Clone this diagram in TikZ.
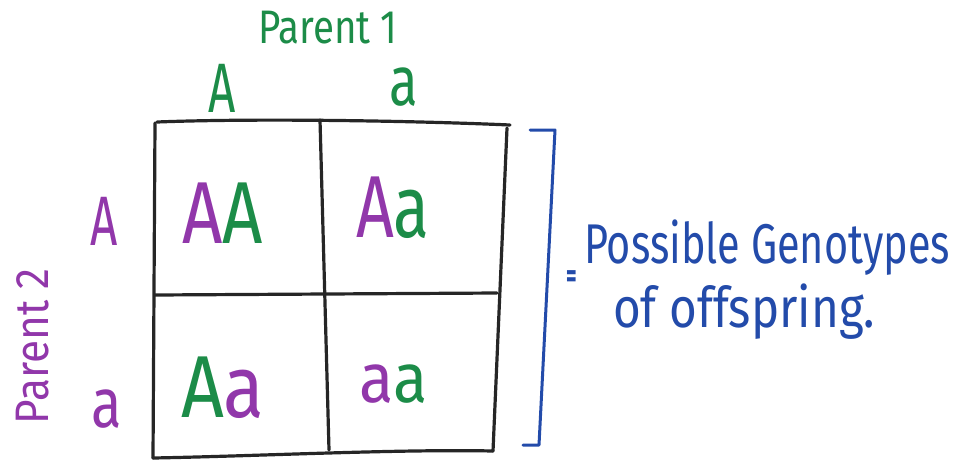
\documentclass[tikz,border=0pt]{standalone}
\usepackage{fontspec}
\setmainfont{Fira Sans}
\usepackage{graphicx}
\definecolor{pgreen}{RGB}{28,140,72}
\definecolor{ppurple}{RGB}{145,55,170}
\definecolor{pblue}{RGB}{35,75,170}
\newcommand\hs[2][0.68]{\scalebox{#1}[1]{#2}}
\newcommand\fs[1]{\fontsize{#1}{#1}\selectfont}
\tikzset{
  grid/.style={line width=3.2pt, black!85, line cap=round, line join=round},
  brack/.style={line width=3pt, pblue, line cap=round, line join=round},
  lab/.style={inner sep=0pt, outer sep=0pt},
}
\begin{document}
\begin{tikzpicture}[x=1pt,y=-1pt]
\useasboundingbox (0,0) rectangle (955,459);
% grid
\coordinate (tl) at (157,122);
\coordinate (tr) at (510,125);
\coordinate (rt) at (507,128);
\coordinate (rb) at (493,451);
\coordinate (bl) at (153,458);
\coordinate (lt) at (155,123);
\coordinate (mt) at (320,120);
\coordinate (mb) at (329,450);
\coordinate (ml) at (155,295);
\coordinate (mr) at (497,293);
\draw[grid] (tl) .. controls (260,118) and (420,121) .. (tr);
\draw[grid] (lt) -- (bl);
\draw[grid] (bl) .. controls (260,456) and (400,449) .. (rb);
\draw[grid] (rt) -- (rb);
\draw[grid] (mt) -- (mb);
\draw[grid] (ml) -- (mr);
% headers
\node[lab, anchor=base west, text=pgreen] (p1) at (258,43) {\fs{47}\hs[0.82]{Parent 1}};
\node[lab, anchor=base west, text=pgreen] (hA) at (208,112) {\fs{70}\hs{A}};
\node[lab, anchor=base west, text=pgreen] (ha) at (389,105) {\fs{70}\hs[0.75]{a}};
\node[lab, anchor=base west, text=ppurple] (vA) at (90,245) {\fs{70}\hs{A}};
\node[lab, anchor=base west, text=ppurple] (va) at (91,427) {\fs{70}\hs[0.8]{a}};
\node[lab, anchor=base west, text=ppurple, rotate=90] (p2) at (48,424) {\fs{47}\hs[0.9]{Parent 2}};
% cells
\node[lab, anchor=base west] (c11) at (182,243) {\fs{88}\hs[0.8]{\textcolor{ppurple}{A}\textcolor{pgreen}{A}}};
\node[lab, anchor=base west] (c12) at (356,237) {\fs{88}\hs[0.75]{\textcolor{ppurple}{A}\textcolor{pgreen}{a}}};
\node[lab, anchor=base west] (c21) at (181,417) {\fs{88}\hs[0.85]{\textcolor{pgreen}{A}\textcolor{ppurple}{a}}};
\node[lab, anchor=base west] (c22) at (359,402) {\fs{70}\hs[0.9]{\textcolor{ppurple}{a}\textcolor{pgreen}{a}}};
% bracket
\coordinate (b1) at (530,130);
\coordinate (b2) at (555,130);
\coordinate (b3) at (539,445);
\coordinate (b4) at (523,445);
\draw[brack] (b1) -- (b2) -- (b3) -- (b4);
\node[lab, text=pblue] (eq) at (572,279) {\fs{34}\hs[0.6]{\textbf{=}}};
\node[lab, anchor=base west, text=pblue] (t1) at (584,263) {\fs{56}\hs[0.74]{Possible Genotypes}};
\node[lab, anchor=base west, text=pblue] (t2) at (613,327) {\fs{56}\hs[0.85]{of offspring.}};
\end{tikzpicture}
\end{document}
